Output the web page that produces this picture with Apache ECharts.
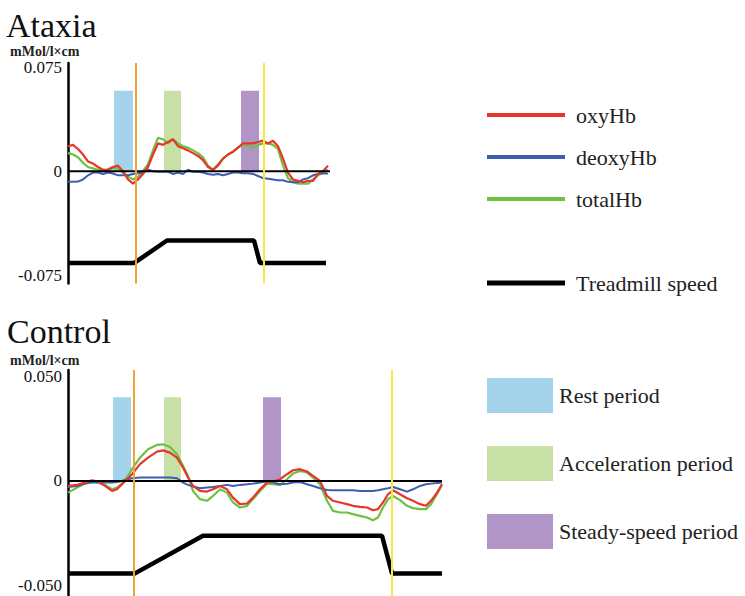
<!DOCTYPE html>
<html>
<head>
<meta charset="utf-8">
<script src="https://cdn.jsdelivr.net/npm/echarts@6/dist/echarts.min.js"></script>
<style>
html,body{margin:0;padding:0;background:#fff;}
#chart{width:745px;height:596px;}
</style>
</head>
<body>
<div id="chart"></div>
<script>
// ---------- Ataxia panel (time index in samples) ----------
const topT = [0,5,10,15,20,25,30,35,40,45,50,55,60,65,70,75,80,85,90,95,100,105,110,115,120,125,130,135,140,145,150,155,160,165,170,175,180,185,190,195,200,205,210,215,220,225,230,235,240,245,250,255,260];
const topOxy = [0.018,0.019,0.016,0.012,0.007,0.0055,0.003,0.001,0.0012,0.003,
  0.004,0.000,-0.006,-0.009,-0.006,-0.002,0.003,0.012,0.020,0.019,
  0.021,0.023,0.018,0.0165,0.015,0.013,0.011,0.008,0.003,0.001,
  0.004,0.009,0.012,0.014,0.017,0.020,0.020,0.020,0.021,0.022,
  0.020,0.022,0.018,0.009,-0.001,-0.006,-0.007,-0.008,-0.007,-0.007,
  -0.002,0.000,0.004];
const topDeoxy = [-0.0077,-0.0077,-0.0075,-0.006,-0.003,-0.001,-0.001,-0.002,-0.001,-0.0017,
  -0.003,-0.003,-0.003,-0.002,-0.0015,-0.001,0.001,0.000,-0.0005,-0.0005,
  -0.0005,-0.002,-0.001,-0.002,0.001,-0.0005,-0.0005,-0.001,-0.002,-0.0025,
  -0.002,-0.003,-0.002,-0.001,-0.001,-0.0015,-0.0015,-0.002,-0.0035,-0.005,
  -0.0055,-0.006,-0.0065,-0.0065,-0.0077,-0.008,-0.008,-0.006,-0.005,-0.003,
  -0.002,-0.0017,-0.0017];
const topTotal = [0.013,0.012,0.010,0.006,0.003,0.002,0.001,0.000,0.001,0.002,
  0.002,-0.001,-0.004,-0.006,-0.004,0.000,0.005,0.015,0.024,0.023,
  0.020,0.023,0.020,0.018,0.017,0.015,0.013,0.010,0.004,0.001,
  0.005,0.009,0.012,0.014,0.017,0.019,0.018,0.017,0.019,0.020,
  0.020,0.019,0.016,0.004,-0.005,-0.008,-0.009,-0.009,-0.009,-0.006,
  -0.003,-0.001,0.001];
const topSpeedT = [0,66,99,186,192,258];
const topSpeedV = [-0.0663,-0.0663,-0.0500,-0.0500,-0.0663,-0.0663];
const topZeroSpan = [0,262];
const topMarkers = [68,196];           // orange: start, yellow: end
const topRestWin = [46,65];
const topAccelWin = [96,113];
const topSteadyWin = [173,191];
const topPeriodTop = 0.058;
const topTicks = [-0.075,0,0.075];

// ---------- Control panel ----------
const ctrlT = [0,9,17,24,30,37,44,49,54,59,64,72,80,89,95,102,109,115,120,125,132,139,145,152,159,165,172,179,185,192,199,205,212,219,225,232,239,245,252,259,265,272,279,285,292,299,305,310,315,320,325,332,339,345,352,358,363,369,374];
const ctrlOxy = [-0.0024,-0.0019,-0.0008,0.0003,-0.0003,-0.0024,-0.0048,-0.0040,-0.0016,0.0008,
  0.0032,0.0080,0.0111,0.0140,0.0146,0.0135,0.0111,0.0064,0.0016,-0.0024,
  -0.0048,-0.0051,-0.0040,-0.0024,-0.0040,-0.0080,-0.0111,-0.0108,-0.0080,-0.0040,
  -0.0008,-0.0003,0.0008,0.0032,0.0051,0.0056,0.0045,0.0024,0.0000,-0.0072,
  -0.0095,-0.0103,-0.0111,-0.0119,-0.0124,-0.0127,-0.0140,-0.0135,-0.0103,-0.0064,
  -0.0045,-0.0064,-0.0083,-0.0095,-0.0111,-0.0119,-0.0095,-0.0056,-0.0016];
const ctrlDeoxy = [-0.0029,-0.0024,-0.0013,-0.0008,-0.0008,-0.0008,-0.0008,-0.0005,0.0000,0.0008,
  0.0013,0.0016,0.0016,0.0016,0.0016,0.0016,0.0013,-0.0008,-0.0019,-0.0027,
  -0.0035,-0.0032,-0.0029,-0.0024,-0.0019,-0.0024,-0.0019,-0.0016,-0.0013,-0.0008,
  -0.0003,-0.0008,-0.0016,-0.0014,-0.0008,-0.0005,-0.0016,-0.0024,-0.0035,-0.0043,
  -0.0045,-0.0045,-0.0045,-0.0045,-0.0048,-0.0048,-0.0048,-0.0045,-0.0040,-0.0035,
  -0.0029,-0.0040,-0.0051,-0.0040,-0.0024,-0.0016,-0.0013,-0.0010,-0.0008];
const ctrlTotal = [-0.0056,-0.0032,-0.0013,-0.0003,-0.0008,-0.0019,-0.0040,-0.0032,-0.0013,0.0016,
  0.0056,0.0111,0.0151,0.0172,0.0175,0.0162,0.0127,0.0072,0.0024,-0.0048,
  -0.0087,-0.0095,-0.0072,-0.0040,-0.0056,-0.0103,-0.0127,-0.0119,-0.0087,-0.0048,
  -0.0013,-0.0016,-0.0019,0.0008,0.0035,0.0048,0.0040,0.0016,-0.0016,-0.0095,
  -0.0143,-0.0151,-0.0151,-0.0159,-0.0167,-0.0175,-0.0188,-0.0175,-0.0127,-0.0087,
  -0.0072,-0.0092,-0.0119,-0.0130,-0.0135,-0.0135,-0.0111,-0.0064,-0.0019];
const ctrlSpeedT = [0,67,135,314,324,374];
const ctrlSpeedV = [-0.0442,-0.0442,-0.0262,-0.0262,-0.0442,-0.0442];
const ctrlZeroSpan = [0,374];
const ctrlMarkers = [66,324];
const ctrlRestWin = [45,63];
const ctrlAccelWin = [96,113];
const ctrlSteadyWin = [195,213];
const ctrlPeriodTop = 0.040;
const ctrlTicks = [-0.05,0,0.05];

// ---------- styling ----------
const C = {
  oxy:'#E8352B', deoxy:'#3D5DB3', total:'#6DC040', speed:'#000000',
  rest:'#A6D3EC', accel:'#C6E0A6', steady:'#B095C6',
  start:'#F0A23A', end:'#F7EA45'
};
const SERIF = '"Liberation Serif","DejaVu Serif",serif';

const zip = (t,v) => t.map((x,i)=>[x,v[i]]);

function rectItem(params, api){
  const p0 = api.coord([api.value(0), api.value(3)]);
  const p1 = api.coord([api.value(1), api.value(2)]);
  return {type:'rect', shape:{x:p0[0], y:p0[1], width:p1[0]-p0[0], height:p1[1]-p0[1]}, style: api.style()};
}
function period(name, idx, win, top, color){
  return {name, type:'custom', xAxisIndex:idx, yAxisIndex:idx, renderItem:rectItem,
    itemStyle:{color}, encode:{x:[0,1], y:[2,3]}, data:[[win[0],win[1],0,top]], z:1, silent:true};
}
function curve(name, idx, t, v, color, w, z){
  return {name, type:'line', xAxisIndex:idx, yAxisIndex:idx, data:zip(t,v), showSymbol:false,
    symbol:'none', lineStyle:{color, width:w}, itemStyle:{color}, z, silent:true};
}
function zero(idx, span, markers){
  return {name:'zero'+idx, type:'line', xAxisIndex:idx, yAxisIndex:idx,
    data:[[span[0],0],[span[1],0]], symbol:'none', lineStyle:{color:'#000', width:2}, z:6, silent:true,
    markLine:{silent:true, symbol:['none','none'], label:{show:false}, z:8,
      data:[{xAxis:markers[0], lineStyle:{color:C.start, width:2, type:'solid'}},
            {xAxis:markers[1], lineStyle:{color:C.end, width:2, type:'solid'}}]}};
}
function yAx(idx, min, max, ticks){
  return {type:'value', gridIndex:idx, min, max,
    axisLine:{show:true, lineStyle:{color:'#000', width:2.5}},
    axisTick:{show:false}, splitLine:{show:false},
    axisLabel:{customValues:ticks, margin:6, color:'#111', fontFamily:SERIF, fontSize:17,
      formatter:v => v === 0 ? '0' : v.toFixed(3)}};
}

const chart = echarts.init(document.getElementById('chart'), null, {renderer:'svg'});
chart.setOption({
  animation:false,
  backgroundColor:'#fff',
  title:[
    {text:'Ataxia', left:6, top:8, padding:0, textStyle:{fontFamily:SERIF, fontSize:34, fontWeight:'normal', color:'#111'}},
    {text:'mMol/l×cm', left:10, top:44, padding:0, textStyle:{fontFamily:SERIF, fontSize:14, fontWeight:'bold', color:'#222'}},
    {text:'Control', left:7, top:314, padding:0, textStyle:{fontFamily:SERIF, fontSize:34, fontWeight:'normal', color:'#111'}},
    {text:'mMol/l×cm', left:10, top:353, padding:0, textStyle:{fontFamily:SERIF, fontSize:14, fontWeight:'bold', color:'#222'}}
  ],
  grid:[
    {left:68, top:63, width:270, height:220.5},
    {left:68, top:370, width:380, height:226}
  ],
  xAxis:[
    {type:'value', gridIndex:0, min:0, max:270, show:false},
    {type:'value', gridIndex:1, min:0, max:380, show:false}
  ],
  yAxis:[
    yAx(0, -0.081, 0.078, topTicks),
    yAx(1, -0.055, 0.053, ctrlTicks)
  ],
  legend:[
    {orient:'vertical', left:482, top:99, itemWidth:78, itemHeight:4, itemGap:20, icon:'rect',
     selectedMode:false, data:['oxyHb','deoxyHb','totalHb'],
     textStyle:{fontFamily:SERIF, fontSize:22, color:'#222', padding:[0,0,0,6]}},
    {orient:'vertical', left:482, top:267, itemWidth:78, itemHeight:5, icon:'rect',
     selectedMode:false, data:['Treadmill speed'],
     textStyle:{fontFamily:SERIF, fontSize:22, color:'#222', padding:[0,0,0,6]}},
    {orient:'vertical', left:482, top:373, itemWidth:66, itemHeight:35, itemGap:33, icon:'rect',
     selectedMode:false, data:['Rest period','Acceleration period','Steady-speed period'],
     textStyle:{fontFamily:SERIF, fontSize:22, color:'#222', padding:[0,0,0,1]}}
  ],
  series:[
    period('Rest period', 0, topRestWin, topPeriodTop, C.rest),
    period('Acceleration period', 0, topAccelWin, topPeriodTop, C.accel),
    period('Steady-speed period', 0, topSteadyWin, topPeriodTop, C.steady),
    period('Rest period', 1, ctrlRestWin, ctrlPeriodTop, C.rest),
    period('Acceleration period', 1, ctrlAccelWin, ctrlPeriodTop, C.accel),
    period('Steady-speed period', 1, ctrlSteadyWin, ctrlPeriodTop, C.steady),
    curve('totalHb', 0, topT, topTotal, C.total, 2.2, 3),
    curve('deoxyHb', 0, topT, topDeoxy, C.deoxy, 2, 4),
    curve('oxyHb', 0, topT, topOxy, C.oxy, 2.2, 5),
    curve('totalHb', 1, ctrlT, ctrlTotal, C.total, 2.2, 3),
    curve('deoxyHb', 1, ctrlT, ctrlDeoxy, C.deoxy, 2, 4),
    curve('oxyHb', 1, ctrlT, ctrlOxy, C.oxy, 2.2, 5),
    zero(0, topZeroSpan, topMarkers),
    zero(1, ctrlZeroSpan, ctrlMarkers),
    curve('Treadmill speed', 0, topSpeedT, topSpeedV, C.speed, 4.5, 7),
    curve('Treadmill speed', 1, ctrlSpeedT, ctrlSpeedV, C.speed, 4.5, 7)
  ]
});
</script>
</body>
</html>
